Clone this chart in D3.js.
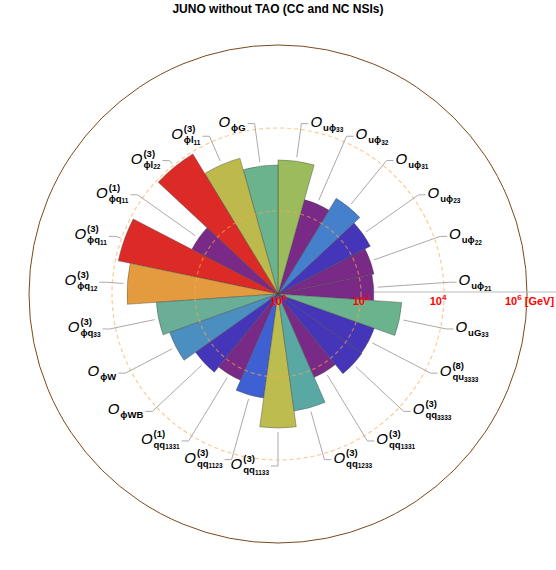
<!DOCTYPE html>
<html><head><meta charset="utf-8">
<script src="https://cdn.jsdelivr.net/npm/d3@7"></script>
<style>html,body{margin:0;padding:0;background:#fff;}svg{display:block;}</style>
</head><body>
<svg id="chart" width="556" height="570"></svg>
<script>
// ---- data ----
const labelMain = ["uϕ","uϕ","uϕ","uϕ","uϕ","uϕ","ϕG","ϕl","ϕl","ϕq","ϕq","ϕq","ϕq","ϕW","ϕWB","qq","qq","qq","qq","qq","qq","qu","uG"];
const labelIdx  = ["21","22","23","31","32","33","","11","22","11","11","12","33","","","1331","1123","1133","1233","1331","3333","3333","33"];
const labelSup  = ["","","","","","","","(3)","(3)","(1)","(3)","(3)","(3)","","","(1)","(3)","(3)","(3)","(3)","(3)","(8)",""];
const scaleGeV  = [205,230,320,500,230,1700,1290,2500,8900,218,8500,4350,870,590,270,185,340,1700,700,155,300,290,970];
const palette   = ["#782a86","#782a86","#4535b8","#4580cc","#782a86","#9bbb5c","#6bb38c","#bdb94c","#dc2a26","#782a86","#dc2a26","#e49b3d","#6aae98","#4b8fc1","#4535b8","#782a86","#3f60d2","#bdbc4e","#5aa8a4","#782a86","#4535b8","#4535b8","#6bb38c"];
const tickValues = [1,1e2,1e4,1e6];
const tickExp = ["0","2","4","6"];
const tickShift = [0,0,-6,-22];
const gridValues = [1e2,1e4];
const title = "JUNO without TAO (CC and NC NSIs)";

const cats = labelMain.map((m,i)=>m+labelIdx[i]+labelSup[i]+"_"+i);
const W=556,H=570,cx=278,cy=294;
const svg=d3.select("#chart");
const n=cats.length, step=2*Math.PI/n;
// angle (math, ccw from east)
const ang=d3.scaleBand().domain(cats).range([-step/4, 2*Math.PI-step/4]).padding(0);
const r=d3.scaleLog().domain([1,1e6]).range([0,249]);
const color=d3.scaleOrdinal().domain(cats).range(palette);
const font="Liberation Sans, Arial, sans-serif";

svg.append("text").attr("x",cx).attr("y",13).attr("text-anchor","middle")
  .attr("font-family",font).attr("font-weight","bold").attr("font-size",12)
  .text(title);

const g=svg.append("g").attr("transform",`translate(${cx},${cy})`);
// outer frame
g.append("circle").attr("r",r(1e6)).attr("fill","none").attr("stroke","#7b4a1c").attr("stroke-width",1);
// radial axis
g.append("line").attr("x1",0).attr("y1",-2).attr("x2",W-cx).attr("y2",-2).attr("stroke","#bbb").attr("stroke-width",1);

const arc=d3.arc();
g.selectAll("path.bar").data(cats).enter().append("path").attr("class","bar")
  .attr("d",(c,i)=>{const a0=ang(c),a1=a0+ang.bandwidth();
     return arc({innerRadius:0,outerRadius:r(scaleGeV[i]),startAngle:Math.PI/2-a1,endAngle:Math.PI/2-a0});})
  .attr("fill",c=>color(c)).attr("stroke","#444").attr("stroke-width",0.5).attr("stroke-opacity",0.8);

// grid circles on top
g.selectAll("circle.grid").data(gridValues).enter().append("circle").attr("class","grid")
  .attr("r",d=>r(d)).attr("fill","none").attr("stroke","#ffa64d").attr("stroke-opacity",0.6)
  .attr("stroke-width",1.2).attr("stroke-dasharray","4,3");

// tick labels
const tl=g.selectAll("text.tick").data(tickValues).enter().append("text").attr("class","tick")
  .attr("x",(d,i)=>r(d)+tickShift[i]).attr("y",11).attr("text-anchor","middle")
  .attr("font-family",font).attr("font-weight","bold").attr("font-size",11).attr("fill","#f00");
tl.append("tspan").text("10");
tl.append("tspan").attr("dy",-5).attr("font-size",8).text((d,i)=>tickExp[i]);
tl.filter((d,i)=>i===3).append("tspan").attr("dy",5).attr("font-size",11).text(" [GeV]");
tl.filter((d,i)=>i===3).attr("text-anchor","start");

// leaders and labels
const Re=172;
cats.forEach((c,i)=>{
  const th=ang(c)+ang.bandwidth()/2;
  const co=Math.cos(th), si=-Math.sin(th);
  const rs=r(scaleGeV[i])+4;
  const re=Math.max(Re,rs+4);
  const x0=rs*co,y0=rs*si,x1=re*co,y1=re*si;
  const dir=co>1e-9?1:-1;
  const x2=x1+dir*7;
  g.append("path").attr("d",`M${x0},${y0}L${x1},${y1}L${x2},${y1}`).attr("fill","none").attr("stroke","#aaa").attr("stroke-width",1);
  const lg=g.append("g");
  const o=lg.append("text").attr("x",0).attr("y",0).attr("font-family",font).attr("font-style","italic").attr("font-size",15).text("O");
  const wO=o.node().getComputedTextLength();
  const sub=lg.append("text").attr("x",wO+1).attr("y",4).attr("font-family",font).attr("font-weight","bold").attr("font-size",9.5);
  sub.append("tspan").text(labelMain[i]);
  if(labelIdx[i]) sub.append("tspan").attr("dy",1.5).attr("font-size",6.5).text(labelIdx[i]);
  let wS=sub.node().getComputedTextLength();
  let wP=0;
  if(labelSup[i]){const sp=lg.append("text").attr("x",wO+1).attr("y",-7).attr("font-family",font).attr("font-weight","bold").attr("font-size",9.5).text(labelSup[i]);wP=sp.node().getComputedTextLength();}
  const tw=wO+1+Math.max(wS,wP);
  const lx=dir>0?x2+2:x2-2-tw;
  lg.attr("transform",`translate(${lx},${y1+3})`);
});
</script>
</body></html>
